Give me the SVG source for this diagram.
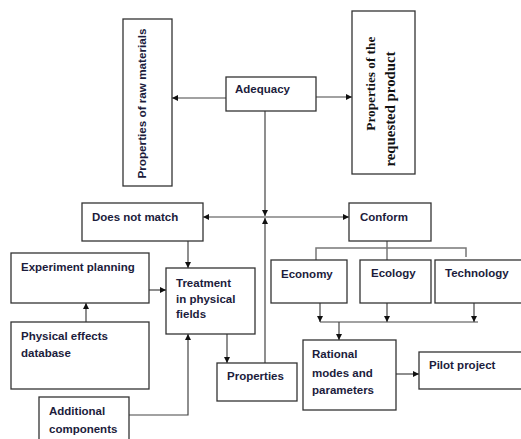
<svg xmlns="http://www.w3.org/2000/svg" width="521" height="439" viewBox="0 0 521 439">
<style>
.box{fill:#fff;stroke:#333;stroke-width:1.3}
.t{font-family:"Liberation Sans",Arial,sans-serif;font-weight:bold;font-size:11.5px;fill:#1c1c3c}
.s{font-family:"Liberation Serif","Times New Roman",serif;font-weight:bold;fill:#111}
.c{fill:none;stroke:#444;stroke-width:1.2}
.g{fill:none;stroke:#777;stroke-width:1.5}
</style>
<defs>
<marker id="ah" viewBox="0 0 10 10" refX="10" refY="5" markerWidth="6" markerHeight="6" markerUnits="userSpaceOnUse" orient="auto">
<path d="M0,0 L10,5 L0,10 z" fill="#111"/>
</marker>
</defs>
<rect width="521" height="439" fill="#fff"/>
<g id="connectors">
<line class="c" x1="226" y1="98" x2="172" y2="98" marker-end="url(#ah)"/>
<line class="c" x1="316" y1="97" x2="352" y2="97" marker-end="url(#ah)"/>
<line class="c" x1="265" y1="111" x2="265" y2="216" marker-end="url(#ah)"/>
<line class="c" x1="265" y1="363" x2="265" y2="218" marker-end="url(#ah)"/>
<line class="c" x1="265" y1="217" x2="203" y2="217" marker-end="url(#ah)"/>
<line class="c" x1="265" y1="217" x2="349" y2="217" marker-end="url(#ah)"/>
<line class="c" x1="188" y1="241" x2="188" y2="268" marker-end="url(#ah)"/>
<line class="c" x1="149" y1="290" x2="166" y2="290" marker-end="url(#ah)"/>
<line class="c" x1="86" y1="322" x2="86" y2="303" marker-end="url(#ah)"/>
<polyline class="c" points="129,415 188,415 188,334" marker-end="url(#ah)"/>
<line class="c" x1="227" y1="334" x2="227" y2="363" marker-end="url(#ah)"/>
<line class="g" x1="387" y1="241" x2="387" y2="260"/>
<polyline class="g" points="316,260 316,248 466,248 466,257"/>
<line class="c" x1="320" y1="303" x2="320" y2="322" marker-end="url(#ah)"/>
<line class="c" x1="387" y1="303" x2="387" y2="322" marker-end="url(#ah)"/>
<line class="c" x1="474" y1="303" x2="474" y2="322" marker-end="url(#ah)"/>
<line class="c" x1="320" y1="322" x2="478" y2="322"/>
<line class="c" x1="339" y1="322" x2="339" y2="340" marker-end="url(#ah)"/>
<line class="c" x1="396" y1="374" x2="419" y2="374" marker-end="url(#ah)"/>
</g>
<g id="raw">
<rect class="box" x="123" y="19" width="49" height="167"/>
<text class="t" transform="translate(146,103.5) rotate(-90)" text-anchor="middle" textLength="150" lengthAdjust="spacingAndGlyphs">Properties of raw materials</text>
</g>
<g id="adequacy">
<rect class="box" x="226" y="77" width="90" height="34"/>
<text class="t" x="235" y="93">Adequacy</text>
</g>
<g id="product">
<rect class="box" x="352" y="11" width="63" height="163"/>
<text class="s" font-size="13px" transform="translate(374.5,83.7) rotate(-90)" text-anchor="middle" textLength="94" lengthAdjust="spacingAndGlyphs">Properties of the</text>
<text class="s" font-size="14.5px" transform="translate(395,109) rotate(-90)" text-anchor="middle" textLength="115" lengthAdjust="spacingAndGlyphs">requested product</text>
</g>
<g id="nomatch">
<rect class="box" x="82" y="203" width="121" height="38"/>
<text class="t" x="92" y="221">Does not match</text>
</g>
<g id="conform">
<rect class="box" x="349" y="203" width="82" height="38"/>
<text class="t" x="360" y="221">Conform</text>
</g>
<g id="experiment">
<rect class="box" x="11" y="253" width="138" height="50"/>
<text class="t" x="21" y="271">Experiment planning</text>
</g>
<g id="treatment">
<rect class="box" x="166" y="268" width="89" height="66"/>
<text class="t" x="176" y="287">Treatment</text>
<text class="t" x="176" y="303">in physical</text>
<text class="t" x="176" y="318">fields</text>
</g>
<g id="physical">
<rect class="box" x="11" y="322" width="138" height="67"/>
<text class="t" x="21" y="340">Physical effects</text>
<text class="t" x="21" y="357">database</text>
</g>
<g id="additional">
<rect class="box" x="39" y="397" width="90" height="50"/>
<text class="t" x="49" y="415">Additional</text>
<text class="t" x="49" y="433">components</text>
</g>
<g id="properties">
<rect class="box" x="217" y="363" width="80" height="38"/>
<text class="t" x="227" y="380">Properties</text>
</g>
<g id="economy">
<rect class="box" x="271" y="260" width="76" height="43"/>
<text class="t" x="281" y="278">Economy</text>
</g>
<g id="ecology">
<rect class="box" x="360" y="260" width="71" height="43"/>
<text class="t" x="371" y="277">Ecology</text>
</g>
<g id="technology">
<rect class="box" x="435" y="260" width="90" height="43"/>
<text class="t" x="445" y="277">Technology</text>
</g>
<g id="rational">
<rect class="box" x="303" y="340" width="93" height="70"/>
<text class="t" x="312" y="358">Rational</text>
<text class="t" x="312" y="377">modes and</text>
<text class="t" x="312" y="394">parameters</text>
</g>
<g id="pilot">
<rect class="box" x="419" y="352" width="106" height="37"/>
<text class="t" x="429" y="369">Pilot project</text>
</g>
</svg>
